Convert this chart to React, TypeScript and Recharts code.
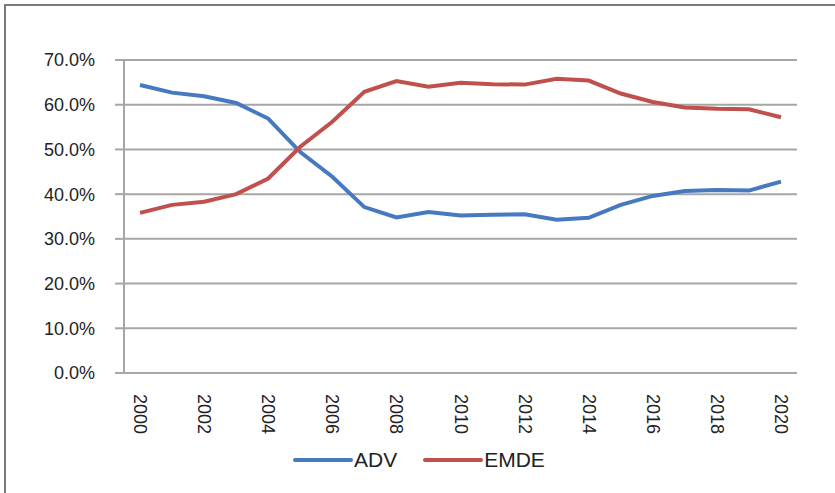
import React from 'react';
import { LineChart, Line, XAxis, YAxis, CartesianGrid } from 'recharts';

const YEARS = [2000, 2001, 2002, 2003, 2004, 2005, 2006, 2007, 2008, 2009, 2010, 2011, 2012, 2013, 2014, 2015, 2016, 2017, 2018, 2019, 2020];
const ADV = [64.4, 62.7, 61.9, 60.4, 56.9, 49.4, 43.9, 37.1, 34.8, 36.0, 35.2, 35.4, 35.5, 34.3, 34.7, 37.6, 39.6, 40.7, 40.9, 40.8, 42.8];
const EMDE = [35.8, 37.6, 38.3, 40.0, 43.5, 50.6, 56.2, 62.9, 65.3, 64.0, 64.9, 64.6, 64.5, 65.8, 65.4, 62.5, 60.6, 59.4, 59.1, 59.0, 57.2];
const Y_TICKS = [0, 10, 20, 30, 40, 50, 60, 70];
const LABEL_YEARS = [2000, 2002, 2004, 2006, 2008, 2010, 2012, 2014, 2016, 2018, 2020];

const BLUE = '#4679C0';
const RED = '#C0504D';
const GRID = '#a6a6a6';
const FONT = '"Liberation Sans", Arial, sans-serif';

const data = YEARS.map((year, i) => ({ year, ADV: ADV[i], EMDE: EMDE[i] }));

// tick marks sit between categories, like the excel original
const boundaryTicks = [...YEARS.map((y) => y - 0.5), YEARS[YEARS.length - 1] + 0.5];

const YearTick = (props: any) => {
    const { x, y, payload } = props;
    return (
        <text
            x={x}
            y={y + 13}
            transform={`rotate(90, ${x}, ${y + 13})`}
            textAnchor="start"
            dominantBaseline="central"
            fontSize={18}
            fontFamily={FONT}
            fill="#222"
        >
            {payload.value}
        </text>
    );
};

function LegendItem({ color, label, gap }: { color: string; label: string; gap: number }) {
    return (
        <div style={{ display: 'flex', alignItems: 'center', marginRight: gap }}>
            <svg width={60} height={8}>
                <line x1={2} y1={4} x2={58} y2={4} stroke={color} strokeWidth={4} strokeLinecap="round" />
            </svg>
            <span style={{ fontSize: 21, color: '#222', marginLeft: 1 }}>{label}</span>
        </div>
    );
}

export default function App() {
    return (
        <div style={{ position: 'absolute', left: 0, top: 0, width: 835, height: 493, overflow: 'hidden', background: '#fff', fontFamily: FONT }}>
            <div style={{ position: 'absolute', left: 4, top: 4, width: 900, height: 600, border: '2px solid #7a7a7a' }} />
            <div style={{ position: 'absolute', left: 0, top: 0 }}>
                <LineChart width={835} height={493} data={data} margin={{ top: 60, right: 38, bottom: 70, left: 0 }}>
                    <CartesianGrid vertical={false} stroke={GRID} strokeWidth={2} />
                    <XAxis
                        dataKey="year"
                        type="number"
                        domain={[1999.5, 2020.5]}
                        ticks={LABEL_YEARS}
                        tick={<YearTick />}
                        tickLine={false}
                        axisLine={false}
                        height={50}
                        interval={0}
                    />
                    <XAxis
                        xAxisId="marks"
                        dataKey="year"
                        type="number"
                        domain={[1999.5, 2020.5]}
                        ticks={boundaryTicks}
                        tick={false}
                        tickSize={6}
                        tickLine={{ stroke: GRID, strokeWidth: 2 }}
                        axisLine={{ stroke: GRID, strokeWidth: 2 }}
                        height={0}
                        interval={0}
                    />
                    <YAxis
                        domain={[0, 70]}
                        ticks={Y_TICKS}
                        width={124}
                        tickSize={9}
                        tickMargin={20}
                        interval={0}
                        tickFormatter={(v: number) => `${v.toFixed(1)}%`}
                        tick={{ fontSize: 18, fill: '#222', fontFamily: FONT }}
                        tickLine={{ stroke: GRID, strokeWidth: 2 }}
                        axisLine={{ stroke: GRID, strokeWidth: 2 }}
                    />
                    <Line type="linear" dataKey="ADV" stroke={BLUE} strokeWidth={4} dot={false} isAnimationActive={false} />
                    <Line type="linear" dataKey="EMDE" stroke={RED} strokeWidth={4} dot={false} isAnimationActive={false} />
                </LineChart>
            </div>
            <div style={{ position: 'absolute', left: 293, top: 448, display: 'flex', alignItems: 'center' }}>
                <LegendItem color={BLUE} label="ADV" gap={26} />
                <LegendItem color={RED} label="EMDE" gap={0} />
            </div>
        </div>
    );
}
